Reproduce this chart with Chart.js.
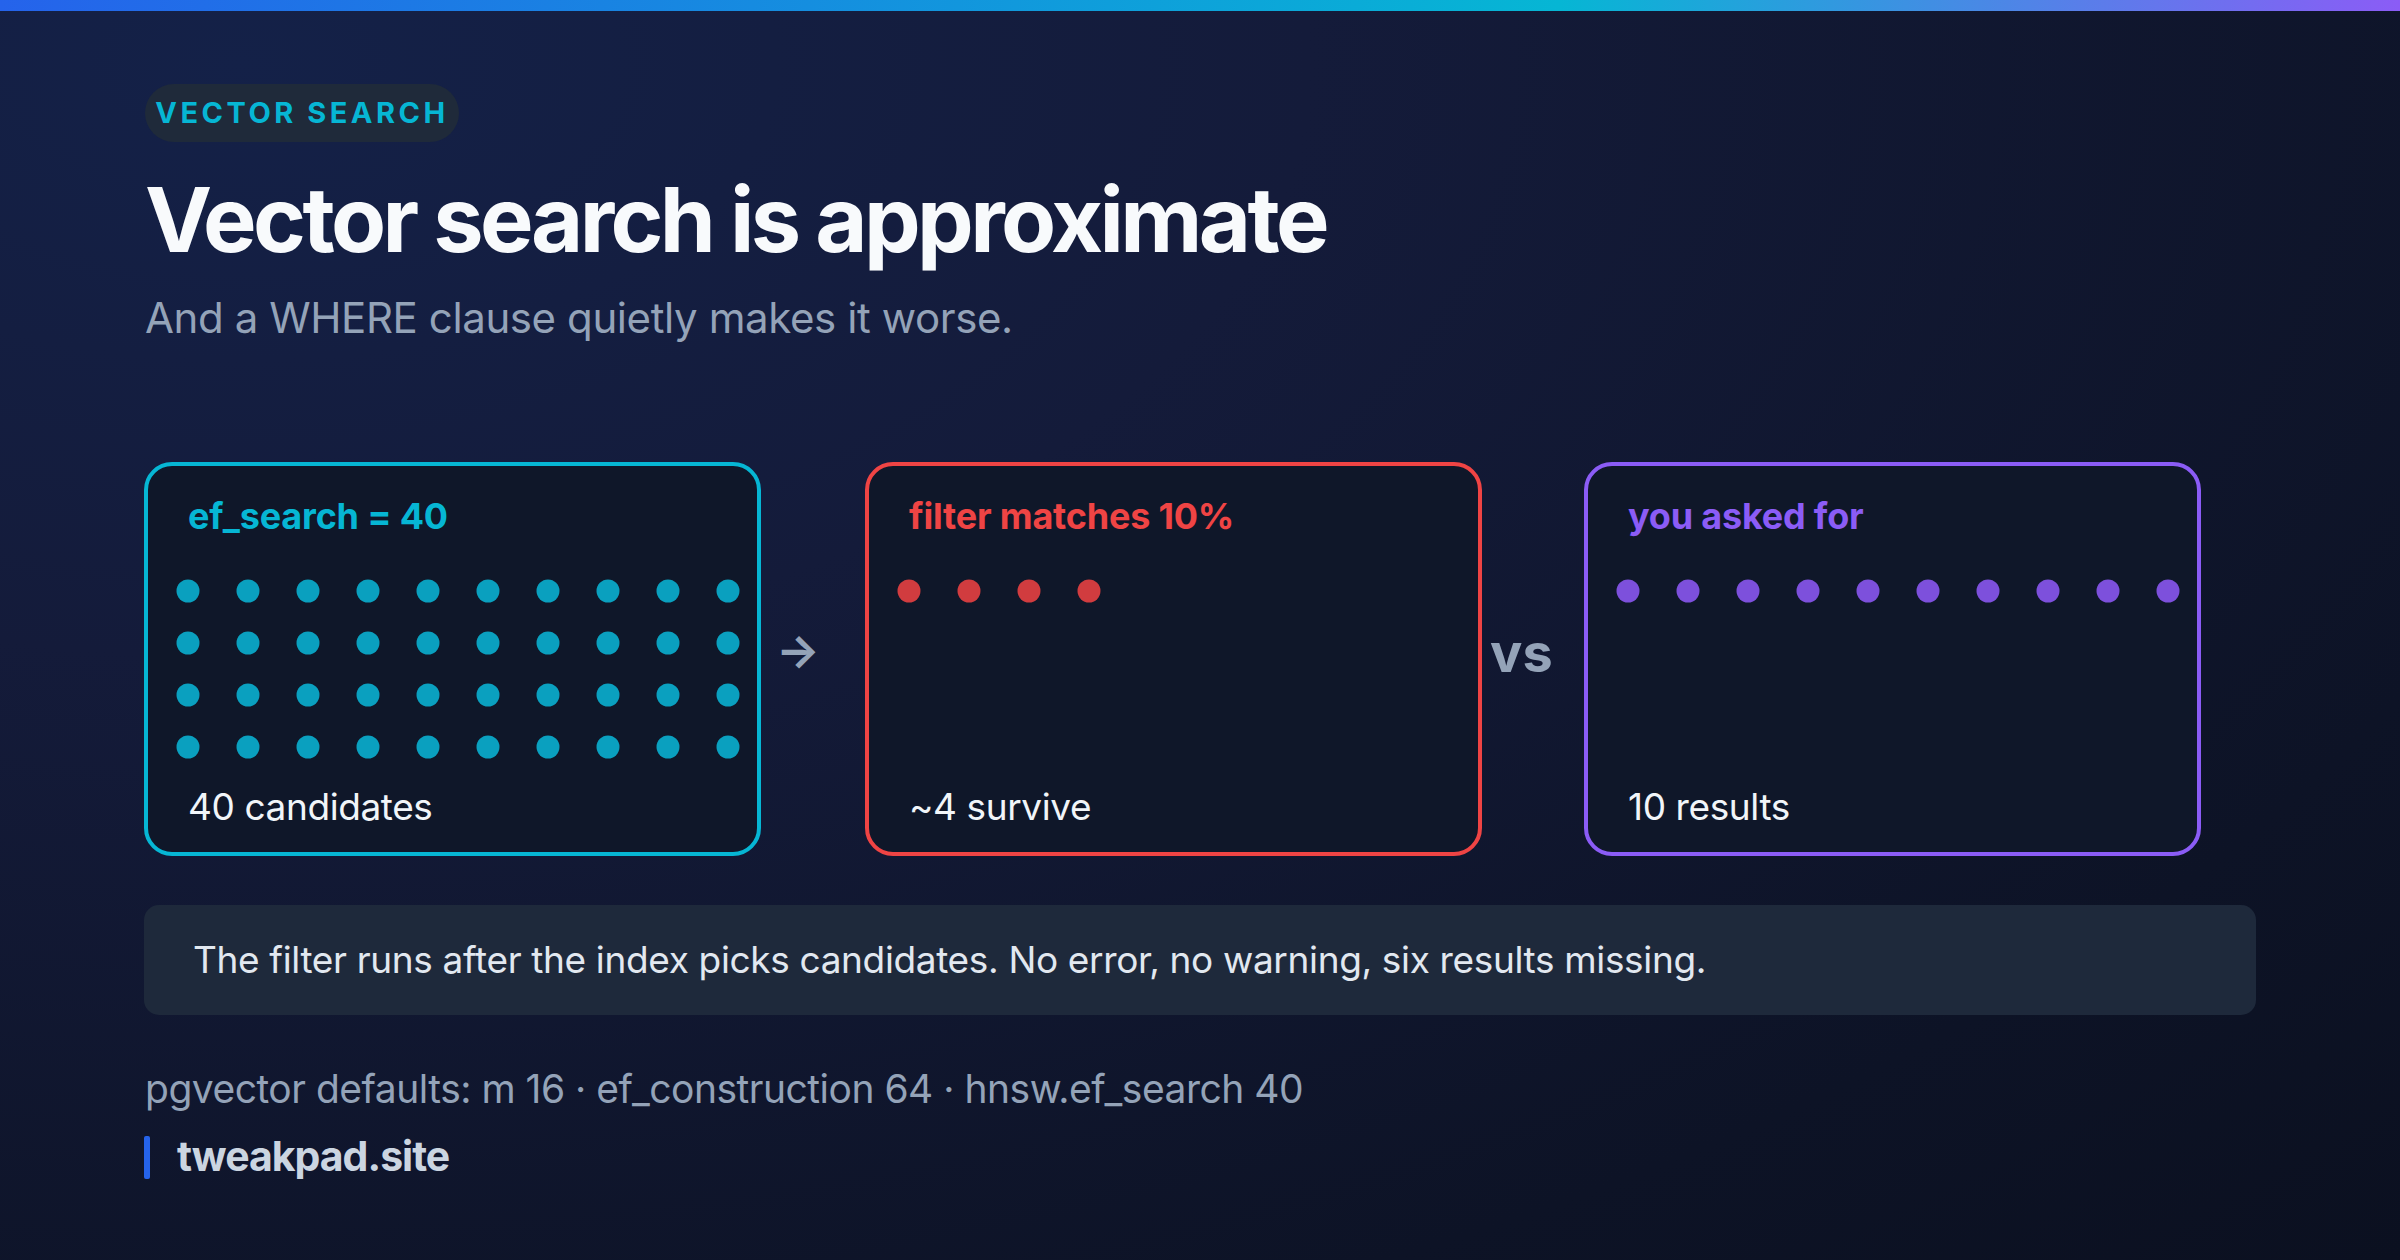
<!DOCTYPE html>
<html><head><meta charset="utf-8">
<script src="https://cdn.jsdelivr.net/npm/chart.js@4"></script>
<style>
html,body{margin:0;padding:0;}
body{width:2400px;height:1260px;overflow:hidden;position:relative;font-family:Inter,"Noto Sans",sans-serif;
background:radial-gradient(ellipse at 10% 5%,#142148 0%,#141b3a 35%,#0d1326 80%,#0b1020 100%);}
.bar{position:absolute;left:0;top:0;width:2400px;height:11px;background:linear-gradient(90deg,#2563eb,#06b6d4 65%,#8b5cf6);}
.abs{position:absolute;white-space:nowrap;}
.badge{left:145px;top:84px;width:314px;height:58px;border-radius:29px;background:#1f2a3a;color:#06b6d4;font-weight:700;font-size:29px;letter-spacing:3.5px;line-height:58px;text-align:center;}
.title{left:145px;top:160px;font-size:90px;font-weight:700;color:#f8fafc;letter-spacing:-3.6px;line-height:120px;}
.sub{left:145px;top:288px;font-size:42px;color:#94a3b8;line-height:60px;letter-spacing:-0.4px;}
.box{position:absolute;top:462px;width:609px;height:386px;border:4px solid;border-radius:28px;background:#0f1729;}
.bt{position:absolute;left:40px;top:28px;font-size:36px;font-weight:700;letter-spacing:-0.2px;}
.bf{position:absolute;left:40px;top:318px;font-size:37px;color:#f1f5f9;letter-spacing:-0.4px;}
canvas{position:absolute;}
.callout{left:144px;top:905px;width:2112px;height:110px;border-radius:15px;background:#1e293b;}
</style></head><body>
<div class="bar"></div>
<div class="abs badge">VECTOR SEARCH</div>
<div class="abs title">Vector search is approximate</div>
<div class="abs sub">And a WHERE clause quietly makes it worse.</div>

<div class="box" style="left:144px;border-color:#06b6d4"><div class="bt" style="color:#06b6d4">ef_search = 40</div><div class="bf">40 candidates</div></div>
<div class="box" style="left:865px;border-color:#ef4444"><div class="bt" style="color:#ef4444">filter matches 10%</div><div class="bf">~4 survive</div></div>
<div class="box" style="left:1584px;border-color:#8b5cf6"><div class="bt" style="color:#8b5cf6">you asked for</div><div class="bf">10 results</div></div>
<div class="abs" style="left:776px;top:622px;font-size:46px;color:#94a3b8;font-weight:700;">→</div>
<div class="abs" style="left:1490px;top:620px;font-size:54px;color:#94a3b8;font-weight:700;">vs</div>

<div class="abs callout"></div>
<div class="abs" style="left:193px;top:937px;font-size:37px;color:#e2e8f0;letter-spacing:-0.35px;">The filter runs after the index picks candidates. No error, no warning, six results missing.</div>
<div class="abs" style="left:145px;top:1065px;font-size:39px;color:#94a3b8;letter-spacing:-0.5px;">pgvector defaults: m 16 · ef_construction 64 · hnsw.ef_search 40</div>
<div class="abs" style="left:144px;top:1136px;width:6px;height:43px;background:#2563eb;border-radius:2px;"></div>
<div class="abs" style="left:177px;top:1131px;font-size:41px;font-weight:700;color:#cbd5e1;letter-spacing:-1px;">tweakpad.site</div>

<canvas id="c0" width="600" height="208" style="left:158px;top:565px"></canvas>
<canvas id="c1" width="600" height="208" style="left:879px;top:565px"></canvas>
<canvas id="c2" width="600" height="208" style="left:1598px;top:565px"></canvas>
<script>
const panelNames = ["ef_search = 40", "filter matches 10%", "you asked for"];
const dotCounts = [40, 4, 10];
const dotColors = ["#0aa0bf", "#d13c3f", "#7d50dc"];
const perRow = 10;
const rows = 4;
dotCounts.forEach((n, k) => {
  const pts = [];
  for (let i = 0; i < n; i++) pts.push({x: i % perRow, y: Math.floor(i / perRow)});
  new Chart(document.getElementById("c" + k), {
    type: "scatter",
    data: {datasets: [{label: panelNames[k], data: pts, backgroundColor: dotColors[k], borderWidth: 0, pointRadius: 11.5, clip: false}]},
    options: {
      responsive: false, animation: false, devicePixelRatio: 1,
      layout: {padding: 0, autoPadding: false},
      plugins: {legend: {display: false}, tooltip: {enabled: false}},
      scales: {
        x: {type: "linear", min: -0.5, max: perRow - 0.5, display: false},
        y: {type: "linear", min: -0.5, max: rows - 0.5, reverse: true, display: false}
      }
    }
  });
});
</script>
</body></html>
